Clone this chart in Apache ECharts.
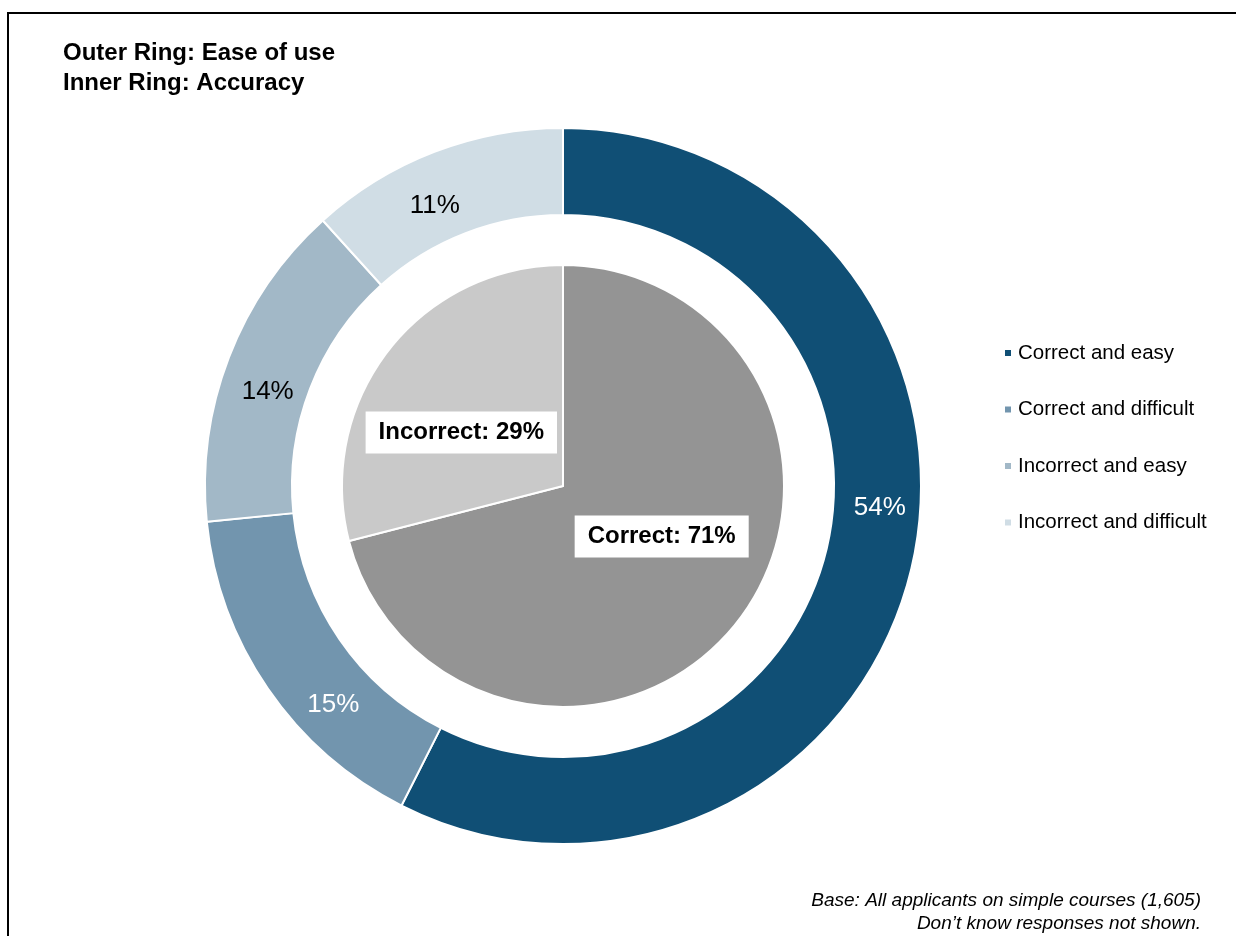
<!DOCTYPE html>
<html>
<head>
<meta charset="utf-8">
<script src="https://cdn.jsdelivr.net/npm/echarts@6/dist/echarts.min.js"></script>
<style>html,body{margin:0;padding:0;background:#fff}#c{width:1236px;height:936px}</style>
</head>
<body>
<div id="c"></div>
<script>
var outerNames = ['Correct and easy', 'Correct and difficult', 'Incorrect and easy', 'Incorrect and difficult'];
var outerValues = [54, 15, 14, 11];
var innerNames = ['Correct', 'Incorrect'];
var innerValues = [71, 29];

var outerColors = ['#104f75', '#7295ae', '#a2b8c7', '#d0dde5'];
var outerLabelColors = ['#ffffff', '#ffffff', '#000000', '#000000'];
var innerColors = ['#949494', '#c9c9c9'];
var outerLabelShift = [[8, -52], [32, 39], [1, 20], [-14, 16]];
var innerLabelShift = [[9, -19], [-12, 16]];

var chart = echarts.init(document.getElementById('c'));
var font = 'Arial, "Liberation Sans", sans-serif';

chart.setOption({
  animation: false,
  title: {
    text: 'Outer Ring: Ease of use\nInner Ring: Accuracy',
    left: 63, top: 38, padding: 0,
    textStyle: { fontFamily: font, fontSize: 24, fontWeight: 'bold', color: '#000', lineHeight: 30 }
  },
  legend: {
    orient: 'vertical',
    left: 1003, top: 342, padding: 0,
    itemWidth: 8, itemHeight: 8, itemGap: 34.5,
    icon: 'rect',
    data: outerNames,
    textStyle: { fontFamily: font, fontSize: 20.5, color: '#000', lineHeight: 22, padding: [0, 0, 0, 1] }
  },
  graphic: [
    { type: 'rect', shape: { x: 8, y: 13, width: 1300, height: 1000 }, style: { fill: 'none', stroke: '#000', lineWidth: 2 }, silent: true },
    { type: 'text', x: 1201, y: 889, style: { text: 'Base: All applicants on simple courses (1,605)\nDon\u2019t know responses not shown.', align: 'right', fontFamily: font, fontSize: 19, fontStyle: 'italic', fill: '#000', lineHeight: 23 } }
  ],
  series: [
    {
      type: 'pie', name: 'Ease of use',
      center: [563, 486], radius: [271, 358],
      startAngle: 90, clockwise: true,
      itemStyle: { borderColor: '#fff', borderWidth: 2 },
      label: { position: 'inside', fontFamily: font, fontSize: 26, formatter: function (p) { return p.value + '%'; } },
      labelLine: { show: false },
      labelLayout: function (p) { var s = outerLabelShift[p.dataIndex]; return { dx: s[0], dy: s[1] }; },
      data: outerNames.map(function (n, i) {
        return { name: n, value: outerValues[i], itemStyle: { color: outerColors[i] }, label: { color: outerLabelColors[i] } };
      })
    },
    {
      type: 'pie', name: 'Accuracy',
      center: [563, 486], radius: [0, 221],
      startAngle: 90, clockwise: true,
      itemStyle: { borderColor: '#fff', borderWidth: 2 },
      label: {
        position: 'inside', fontFamily: font, fontSize: 24, fontWeight: 'bold', color: '#000',
        backgroundColor: '#fff', padding: [9, 13, 9, 13],
        formatter: function (p) { return p.name + ': ' + p.value + '%'; }
      },
      labelLine: { show: false },
      labelLayout: function (p) { var s = innerLabelShift[p.dataIndex]; return { dx: s[0], dy: s[1] }; },
      data: innerNames.map(function (n, i) {
        return { name: n, value: innerValues[i], itemStyle: { color: innerColors[i] } };
      })
    }
  ]
});
</script>
</body>
</html>
